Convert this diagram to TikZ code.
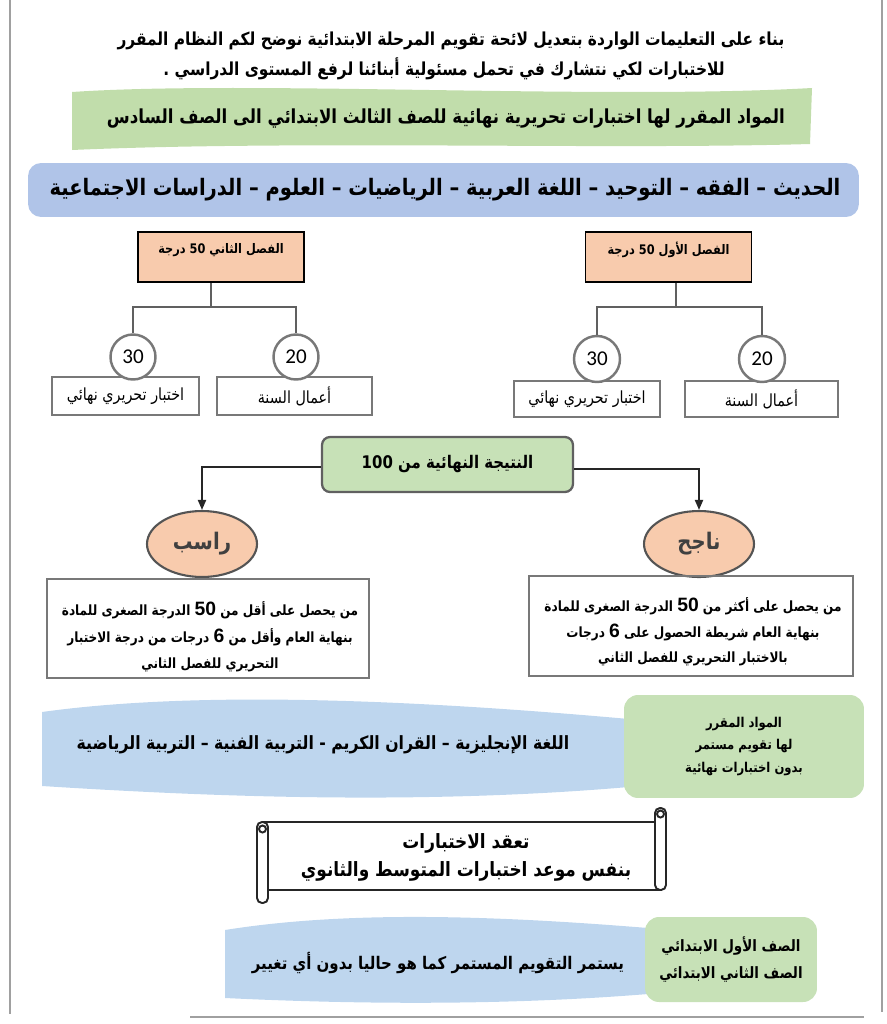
\documentclass[tikz,border=0pt]{standalone}
\usepackage{fontspec}
\newfontfamily\arabicfont[Script=Arabic,FakeStretch=0.86]{DejaVu Sans}
\newfontfamily\numfont{Carlito}
\newfontfamily\latfont{Liberation Sans}
\TeXXeTstate=1
\usetikzlibrary{shapes.geometric,arrows.meta,positioning,calc}
\definecolor{bnr}{RGB}{193,221,171}
\definecolor{sbj}{RGB}{176,196,232}
\definecolor{sky}{RGB}{190,214,238}
\definecolor{lgr}{RGB}{199,225,183}
\definecolor{pch}{RGB}{248,203,173}
\definecolor{ring}{RGB}{120,120,120}
\newcommand{\rl}[1]{\beginR #1\endR}
\newcommand{\bignum}[1]{\beginL{\latfont\bfseries\fontsize{11}{11}\selectfont #1}\endL{}}

\begin{document}
\begin{tikzpicture}[x=0.02cm,y=-0.02cm,
    txt/.style={inner sep=0pt,font=\arabicfont\bfseries\fontsize{10.2}{12}\selectfont},
    gradebox/.style={rectangle,draw=black,line width=1pt,fill=pch,minimum width=3.32cm,minimum height=1cm,inner sep=0pt},
    scorec/.style={circle,draw=ring,line width=1.4pt,fill=white,minimum size=0.9cm,inner sep=0pt,font=\numfont\fontsize{12}{12}\selectfont},
    partbox/.style={rectangle,draw=ring,line width=1.4pt,fill=white,minimum height=0.75cm,inner sep=0pt,font=\arabicfont\fontsize{9.5}{10}\selectfont},
    tree/.style={draw=ring!80!black,line width=1.1pt},
    flow/.style={-{Triangle[length=2mm,width=1.6mm]},line width=1.1pt,black!85},
    verdict/.style={ellipse,draw=ring!70!black,line width=1.2pt,fill=pch,minimum width=2.2cm,minimum height=1.32cm,inner sep=0pt,font=\arabicfont\bfseries\fontsize{13}{13}\selectfont,text=black!75},
    rulebox/.style={rectangle,draw=ring,line width=1.6pt,inner sep=0pt},
    tagbox/.style={rectangle,rounded corners=0.28cm,fill=lgr,inner sep=0pt,align=center},
    scrl/.style={draw=black!85,line width=1.1pt,fill=white},
]
\useasboundingbox (0,0) rectangle (886,1024);

% frame
\draw[ring!70,line width=0.8pt] (10,0) -- (10,1014);
\draw[ring!70,line width=0.8pt] (882,0) -- (882,1012);
\draw[ring!70,line width=0.8pt] (190,1017) -- (864,1017);

% intro
\node[txt] (intro1) at (451,41) {\rl{بناء على التعليمات الواردة بتعديل لائحة تقويم المرحلة الابتدائية نوضح لكم النظام المقرر}};
\node[txt] (intro2) at (444,69) {\rl{للاختبارات لكي نتشارك في تحمل مسئولية أبنائنا لرفع المستوى الدراسي .}};

% green banner
\fill[bnr] (72,92) .. controls (250,80) and (600,100) .. (812,88) -- (810,144) .. controls (600,150) and (300,140) .. (72,150) -- cycle;
\node[txt,font=\arabicfont\bfseries\fontsize{11}{12}\selectfont] (bantxt) at (446,119) {\rl{المواد المقرر لها اختبارات تحريرية نهائية للصف الثالث الابتدائي الى الصف السادس}};

% subjects
\node[rectangle,rounded corners=0.26cm,fill=sbj,minimum width=16.62cm,minimum height=1.08cm] (subj) at (443.5,190) {};
\node[txt,font=\arabicfont\bfseries\fontsize{12.9}{13}\selectfont] (subjtxt) at (445,190) {\rl{الحديث – الفقه – التوحيد – اللغة العربية – الرياضيات – العلوم – الدراسات الاجتماعية}};

% second term
\node[gradebox] (s2) at (221,257) {};
\node[txt,font=\arabicfont\bfseries\fontsize{7.5}{9}\selectfont] (s2txt) at ([yshift=-0.38cm]s2.north) {\rl{الفصل الثاني \beginL 50\endL{} درجة}};
\node[partbox,minimum width=2.94cm] (r2a) at (125.5,396) {\rl{اختبار تحريري نهائي}};
\node[partbox,minimum width=3.1cm] (r2b) at (294.5,396) {\rl{أعمال السنة}};
\node[scorec] (c2a) at (133,357) {30};
\node[scorec] (c2b) at (296,357) {20};
\coordinate (j2) at (211,307);
\draw[tree] (s2.south -| j2) -- (j2);
\draw[tree] (c2a.north) -- (c2a.north |- j2) -- (c2b.north |- j2) -- (c2b.north);

% first term
\node[gradebox] (s1) at (668.5,257) {};
\node[txt,font=\arabicfont\bfseries\fontsize{7.5}{9}\selectfont] (s1txt) at ([yshift=-0.38cm]s1.north) {\rl{الفصل الأول \beginL 50\endL{} درجة}};
\node[partbox,minimum width=2.92cm,minimum height=0.72cm] (r1a) at (587,399) {\rl{اختبار تحريري نهائي}};
\node[partbox,minimum width=3.06cm,minimum height=0.72cm] (r1b) at (761.5,399) {\rl{أعمال السنة}};
\node[scorec,minimum size=0.92cm] (c1a) at (597,359) {30};
\node[scorec,minimum size=0.92cm] (c1b) at (762,359) {20};
\coordinate (j1) at (676,307);
\draw[tree] (s1.south -| j1) -- (j1);
\draw[tree] (c1a.north) -- (c1a.north |- j1) -- (c1b.north |- j1) -- (c1b.north);

% result
\node[rectangle,rounded corners=0.16cm,draw=ring!80!black,line width=1.3pt,fill=lgr,minimum width=5.02cm,minimum height=1.1cm,font=\arabicfont\bfseries\fontsize{9.9}{10}\selectfont] (res) at (447.5,464.5) {\rl{النتيجة النهائية من \beginL 100\endL{}}};
\node[verdict] (fail) at (202,544) {\rl{راسب}};
\node[verdict] (pass) at (699,544) {\rl{ناجح}};
\draw[flow] ([yshift=-0.05cm]res.west) -| (fail.north);
\draw[flow] ([yshift=-0.09cm]res.east) -| (pass.north);

% rules
\node[rulebox,minimum width=6.44cm,minimum height=1.98cm] (failbox) at (208,628.5) {};
\node[txt,align=center,font=\arabicfont\bfseries\fontsize{8}{15}\selectfont] (failtxt) at (210,637) {\rl{من يحصل على أقل من \bignum{50} الدرجة الصغرى للمادة}\\\rl{بنهاية العام وأقل من \bignum{6} درجات من درجة الاختبار}\\\rl{التحريري للفصل الثاني}};
\node[rulebox,minimum width=6.48cm,minimum height=2cm] (passbox) at (691,626) {};
\node[txt,align=center,font=\arabicfont\bfseries\fontsize{8}{14.5}\selectfont] (passtxt) at (693,632) {\rl{من يحصل على أكثر من \bignum{50} الدرجة الصغرى للمادة}\\\rl{بنهاية العام شريطة الحصول على \bignum{6} درجات}\\\rl{بالاختبار التحريري للفصل الثاني}};

% continuous assessment band
\fill[sky] (42,712) .. controls (200,690) and (420,700) .. (640,720) -- (640,786) .. controls (420,806) and (200,796) .. (42,786) -- cycle;
\node[txt,font=\arabicfont\bfseries\fontsize{10.4}{11}\selectfont] (band1) at (323,745) {\rl{اللغة الإنجليزية – القران الكريم - التربية الفنية – التربية الرياضية}};
\node[tagbox,minimum width=4.8cm,minimum height=2.06cm,font=\arabicfont\bfseries\fontsize{7.7}{12.8}\selectfont] (tag1) at (744,746.5) {\rl{المواد المقرر}\\\rl{لها تقويم مستمر}\\\rl{بدون اختبارات نهائية}};

% scroll
\draw[scrl] (263,822) rectangle (660,890);
\draw[scrl,rounded corners=0.1cm] (655,808) rectangle (666,890);
\draw[scrl] (660.5,814) circle (0.07cm);
\draw[scrl,rounded corners=0.1cm] (257,822) rectangle (268,903);
\draw[scrl] (262.5,829) circle (0.07cm);
\node[txt,align=center,font=\arabicfont\bfseries\fontsize{11.2}{16}\selectfont] (scrolltxt) at (466,857) {\rl{تعقد الاختبارات}\\\rl{بنفس موعد اختبارات المتوسط والثانوي}};

% grades one and two
\fill[sky] (225,930) .. controls (350,910) and (500,916) .. (648,928) -- (648,994) .. controls (500,1006) and (350,1004) .. (225,998) -- cycle;
\node[txt,font=\arabicfont\bfseries\fontsize{9.9}{12}\selectfont] (band2) at (438,963) {\rl{يستمر التقويم المستمر كما هو حاليا بدون أي تغيير}};
\node[tagbox,minimum width=3.44cm,minimum height=1.7cm,font=\arabicfont\bfseries\fontsize{8.9}{15}\selectfont] (tag2) at (731,959.5) {\rl{الصف الأول الابتدائي}\\\rl{الصف الثاني الابتدائي}};
\end{tikzpicture}
\end{document}
